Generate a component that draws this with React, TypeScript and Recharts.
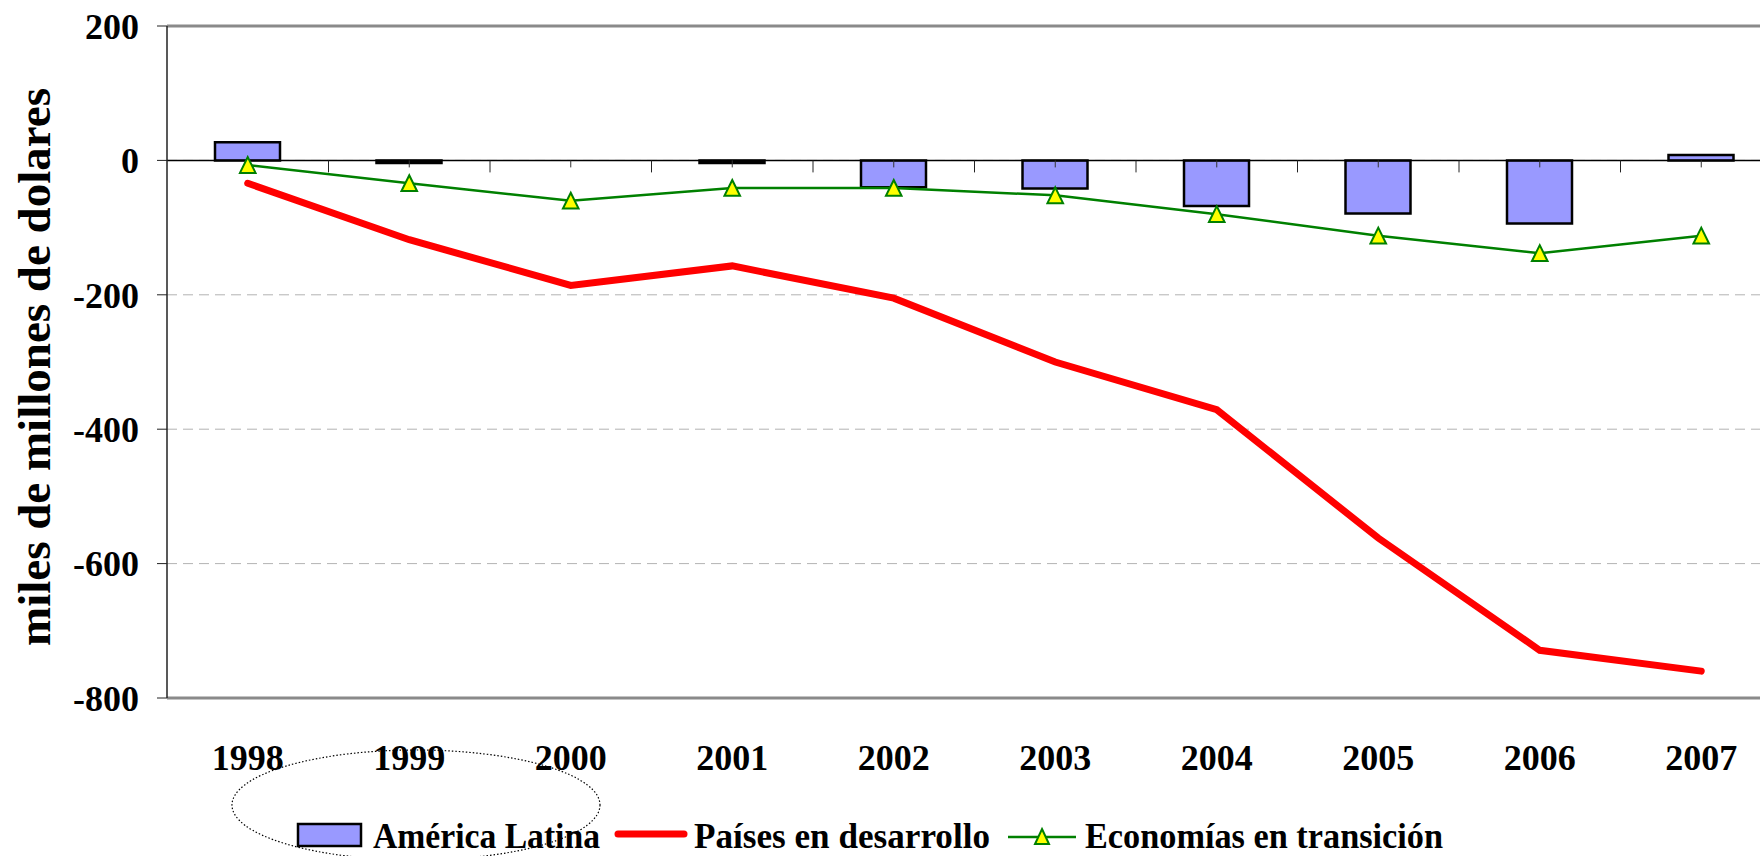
import React from "react";
import { Bar, CartesianGrid, ComposedChart, Legend, Line, ReferenceLine, XAxis, YAxis } from "recharts";

const years = ["1998", "1999", "2000", "2001", "2002", "2003", "2004", "2005", "2006", "2007"];
const americaLatina = [27, -4, 0, -4, -40, -42, -68, -79, -94, 8];
const paisesDesarrollo = [-34, -118, -186, -157, -205, -300, -371, -562, -729, -760];
const economiasTransicion = [-7, -34, -60, -41, -41, -52, -80, -112, -138, -112];
const yTicks = [200, 0, -200, -400, -600, -800];

const data = years.map((year, i) => ({
  year,
  al: americaLatina[i],
  pd: paisesDesarrollo[i],
  et: economiasTransicion[i],
}));

const font = "'Liberation Serif', 'Times New Roman', serif";

// y-axis title, fixed left of the axis
const YLabel = () => (
  <text
    x={50}
    y={367}
    transform="rotate(-90 50 367)"
    textAnchor="middle"
    fontFamily={font}
    fontWeight="bold"
    fontSize={47}
    fill="#000"
  >
    miles de millones de dolares
  </text>
)

// zero line with the category ticks hanging below it
const ZeroAxis = (p: any) => {
  const { x1, x2, y1 } = p
  const n = years.length
  const band = (x2 - x1) / n
  const marks = []
  for (let i = 0; i < n; i++) {
    const c = x1 + (i + 0.5) * band
    marks.push(<line key={"c" + i} x1={c} x2={c} y1={y1} y2={y1 + 7} stroke="#333" strokeWidth={1} />)
    if (i > 0) {
      const b = x1 + i * band
      marks.push(<line key={"b" + i} x1={b} x2={b} y1={y1} y2={y1 + 12} stroke="#222" strokeWidth={1} />)
    }
  }
  return (
    <g>
      <line x1={x1} x2={x2} y1={y1} y2={y1} stroke="#000" strokeWidth={1.5} />
      {marks}
    </g>
  )
}

const Triangle = (p: any) => {
  const { cx, cy, index } = p
  if (cx == null || cy == null) return <g key={"t" + index} />
  return (
    <path
      key={"t" + index}
      d={`M${cx},${cy - 8} L${cx + 7.8},${cy + 7.8} L${cx - 7.8},${cy + 7.8} Z`}
      fill="#ffff00"
      stroke="#008000"
      strokeWidth={2}
    />
  )
}

const legendText = { fontFamily: font, fontWeight: "bold", fontSize: 36, fill: "#000", lengthAdjust: "spacingAndGlyphs" } as any

const renderLegend = () => (
  <svg width={1760} height={44} style={{ display: "block" }}>
    <rect x={298} y={9} width={63} height={22} fill="#9999ff" stroke="#000" strokeWidth={2.5} />
    <text x={373} y={33} textLength={227} {...legendText}>América Latina</text>
    <line x1={618} y1={19} x2={684} y2={19} stroke="#ff0000" strokeWidth={7} strokeLinecap="round" />
    <text x={694} y={33} textLength={296} {...legendText}>Países en desarrollo</text>
    <line x1={1008} y1={22} x2={1076} y2={22} stroke="#008000" strokeWidth={2.5} />
    <path d="M1042,14 L1049,29 L1035,29 Z" fill="#ffff00" stroke="#008000" strokeWidth={2} />
    <text x={1085} y={33} textLength={358} {...legendText}>Economías en transición</text>
  </svg>
)

export default function App() {
  return (
    <div
      style={{
        position: "fixed",
        left: 0,
        top: 0,
        width: 1760,
        height: 856,
        overflow: "hidden",
        background: "#fff",
      }}
    >
      <ComposedChart width={1782} height={856} data={data} margin={{ top: 26, right: 0, bottom: 78, left: 0 }}>
        <CartesianGrid vertical={false} stroke="#b3b3b3" strokeDasharray="10 6" />
        <XAxis
          dataKey="year"
          height={80}
          axisLine={false}
          tickLine={false}
          tickSize={0}
          tickMargin={46}
          interval={0}
          tick={{ fill: "#000", fontSize: 36, fontWeight: "bold", fontFamily: font }}
        />
        <YAxis
          type="number"
          domain={[-800, 200]}
          ticks={yTicks}
          interval={0}
          width={167}
          tickSize={10}
          tickMargin={18}
          allowDataOverflow
          axisLine={{ stroke: "#222", strokeWidth: 1.5 }}
          tickLine={{ stroke: "#222" }}
          tick={{ fill: "#000", fontSize: 36, fontWeight: "bold", fontFamily: font }}
          label={<YLabel />}
        />
        <ReferenceLine y={200} stroke="#8a8a8a" strokeWidth={3} />
        <ReferenceLine y={-800} stroke="#8a8a8a" strokeWidth={3} />
        <Bar dataKey="al" name="América Latina" fill="#9999ff" stroke="#000" strokeWidth={2.5} barSize={65} isAnimationActive={false} />
        <ReferenceLine y={0} shape={ZeroAxis} />
        <Line
          dataKey="pd"
          name="Países en desarrollo"
          stroke="#ff0000"
          strokeWidth={7}
          strokeLinecap="round"
          dot={false}
          activeDot={false}
          isAnimationActive={false}
        />
        <Line
          dataKey="et"
          name="Economías en transición"
          stroke="#008000"
          strokeWidth={2.5}
          dot={Triangle}
          activeDot={false}
          isAnimationActive={false}
        />
        <Legend
          layout="horizontal"
          verticalAlign="middle"
          align="center"
          content={renderLegend}
          wrapperStyle={{ left: 0, top: 815, width: 1760 }}
        />
      </ComposedChart>
      <svg width={1760} height={856} style={{ position: "absolute", left: 0, top: 0, pointerEvents: "none" }}>
        <ellipse cx={416} cy={805} rx={184} ry={55} fill="none" stroke="#000" strokeWidth={1.2} strokeDasharray="1.5 2" />
      </svg>
    </div>
  )
}
